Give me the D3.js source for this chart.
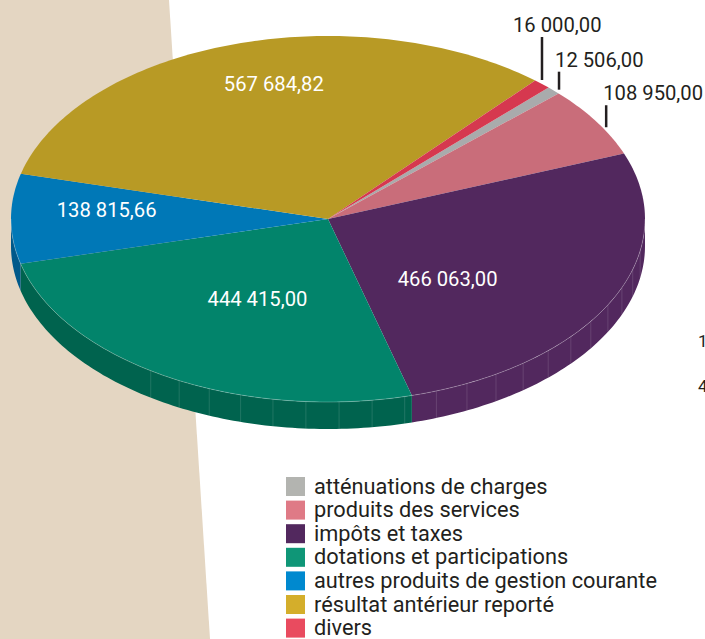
<!DOCTYPE html>
<html>
<head>
<meta charset="utf-8">
<script src="https://cdn.jsdelivr.net/npm/d3@7"></script>
<style>
  body { margin: 0; background: #fff; overflow: hidden; }
  text { font-family: Roboto, "Noto Sans", sans-serif; }
</style>
</head>
<body>
<script>
// chart data, legend order
const categories = [
  "atténuations de charges",
  "produits des services",
  "impôts et taxes",
  "dotations et participations",
  "autres produits de gestion courante",
  "résultat antérieur reporté",
  "divers"
];
const values = [12506, 108950, 466063, 444415, 138815.66, 567684.82, 16000];
const topColors = ["#a9abac", "#c96d7a", "#52285e", "#02846b", "#0078b7", "#b89a25", "#d6384f"];
const sideColors = ["#8e9091", "#a85562", "#52285e", "#00634e", "#00598a", "#98801c", "#b02a3f"];
const legendColors = ["#b3b4b0", "#df7a86", "#52285e", "#0f9677", "#0089cf", "#d4ae2b", "#e94b5f"];

// which slices get an inside label and which get a callout
const insideLabels = [
  {i: 5, angle: 347, r: 0.76},
  {i: 4, angle: 274, r: 0.70},
  {i: 3, angle: 207, r: 0.49},
  {i: 2, angle: 131, r: 0.50}
];
const callouts = [
  {i: 6, nudge: 0,   len: 43, dx: -29},
  {i: 0, nudge: 1.4, len: 18, dx: -4},
  {i: 1, nudge: 3.5, len: 22, dx: -3}
];

const width = 705, height = 639;
const cx = 328, cy = 219, rx = 317, ry = 183, depth = 27;
const rad = d => d * Math.PI / 180;

const fmt = d3.formatLocale({decimal: ",", thousands: " ", grouping: [3], currency: ["", ""]}).format(",.2f");

const svg = d3.select("body").append("svg")
    .attr("width", width)
    .attr("height", height);

// beige band on the left
svg.append("path")
    .attr("d", d3.line()([[0, 0], [169, 0], [210, height], [0, height]]) + "Z")
    .attr("fill", "#e4d6c2");

const pt = (a, k = 1) => [cx + rx * k * Math.sin(a), cy - ry * k * Math.cos(a)];

function arcPoints(a0, a1) {
    const n = Math.max(2, Math.ceil((a1 - a0) / rad(1)));
    return d3.range(n + 1).map(j => pt(a0 + (a1 - a0) * j / n));
}

const start = rad(44.1);
const pie = d3.pie().sort(null).value(d => d)
    .startAngle(start).endAngle(start + 2 * Math.PI);
const arcs = pie(values);

const g = svg.append("g");

// side walls (front half only)
arcs.forEach((d, i) => {
    const s0 = Math.max(d.startAngle, Math.PI / 2);
    const s1 = Math.min(d.endAngle, 3 * Math.PI / 2);
    if (s1 <= s0) return;
    const top = arcPoints(s0, s1);
    const bottom = top.slice().reverse().map(p => [p[0], p[1] + depth]);
    g.append("path")
        .attr("d", d3.line()(top.concat(bottom)) + "Z")
        .attr("fill", sideColors[i]);
});

// faint facet lines on the wall
g.selectAll(".facet")
    .data(d3.range(rad(100), rad(217), rad(6)))
    .join("line")
    .attr("class", "facet")
    .attr("x1", a => pt(a)[0]).attr("y1", a => pt(a)[1])
    .attr("x2", a => pt(a)[0]).attr("y2", a => pt(a)[1] + depth)
    .attr("stroke", "#fff")
    .attr("stroke-opacity", 0.18)
    .attr("stroke-width", 0.7);

// top faces
g.selectAll(".slice")
    .data(arcs)
    .join("path")
    .attr("class", "slice")
    .attr("d", d => d3.line()([[cx, cy]].concat(arcPoints(d.startAngle, d.endAngle))) + "Z")
    .attr("fill", (d, i) => topColors[i]);

// light rim line
g.append("path")
    .attr("d", d3.line()(arcPoints(Math.PI / 2, 3 * Math.PI / 2)))
    .attr("fill", "none")
    .attr("stroke", "#fff")
    .attr("stroke-opacity", 0.3)
    .attr("stroke-width", 0.8);

// size the value font so "567 684,82" is ~100px wide
const probe = svg.append("text").attr("font-size", 20).text(fmt(values[5]));
const valueSize = 20 * 100 / probe.node().getComputedTextLength();
probe.remove();

g.selectAll(".inlabel")
    .data(insideLabels)
    .join("text")
    .attr("class", "inlabel")
    .attr("x", d => pt(rad(d.angle), d.r)[0])
    .attr("y", d => pt(rad(d.angle), d.r)[1])
    .attr("dy", "0.36em")
    .attr("text-anchor", "middle")
    .attr("font-size", valueSize)
    .attr("fill", "#fff")
    .text(d => fmt(values[d.i]));

// callouts for the small slices
callouts.forEach(c => {
    const a = arcs[c.i];
    const mid = (a.startAngle + a.endAngle) / 2 + rad(c.nudge);
    const p = pt(mid);
    const y1 = p[1] - 4, y0 = y1 - c.len;
    svg.append("line")
        .attr("x1", p[0]).attr("x2", p[0])
        .attr("y1", y0).attr("y2", y1)
        .attr("stroke", "#231f20")
        .attr("stroke-width", 2.5);
    svg.append("text")
        .attr("x", p[0] + c.dx)
        .attr("y", y0 - 5)
        .attr("font-size", valueSize)
        .attr("fill", "#231f20")
        .text(fmt(values[c.i]));
});

// clipped glyphs of the neighbouring chart at the right edge
svg.append("text").attr("x", 698).attr("y", 347).attr("font-size", 17).attr("fill", "#231f20").text("1");
svg.append("text").attr("x", 698).attr("y", 392).attr("font-size", 17).attr("fill", "#231f20").text("4");

// legend
const probe2 = svg.append("text").attr("font-size", 20).text(categories[4]);
const legendSize = 20 * 343 / probe2.node().getComputedTextLength();
probe2.remove();

const legend = svg.append("g").attr("transform", "translate(286,477)");
const rows = legend.selectAll(".row")
    .data(categories)
    .join("g")
    .attr("class", "row")
    .attr("transform", (d, i) => `translate(0,${i * 23.6})`);
rows.append("rect")
    .attr("width", 19).attr("height", 19)
    .attr("fill", (d, i) => legendColors[i]);
rows.append("text")
    .attr("x", 28)
    .attr("y", 16.5)
    .attr("font-size", legendSize)
    .attr("fill", "#231f20")
    .text(d => d);
</script>
</body>
</html>
